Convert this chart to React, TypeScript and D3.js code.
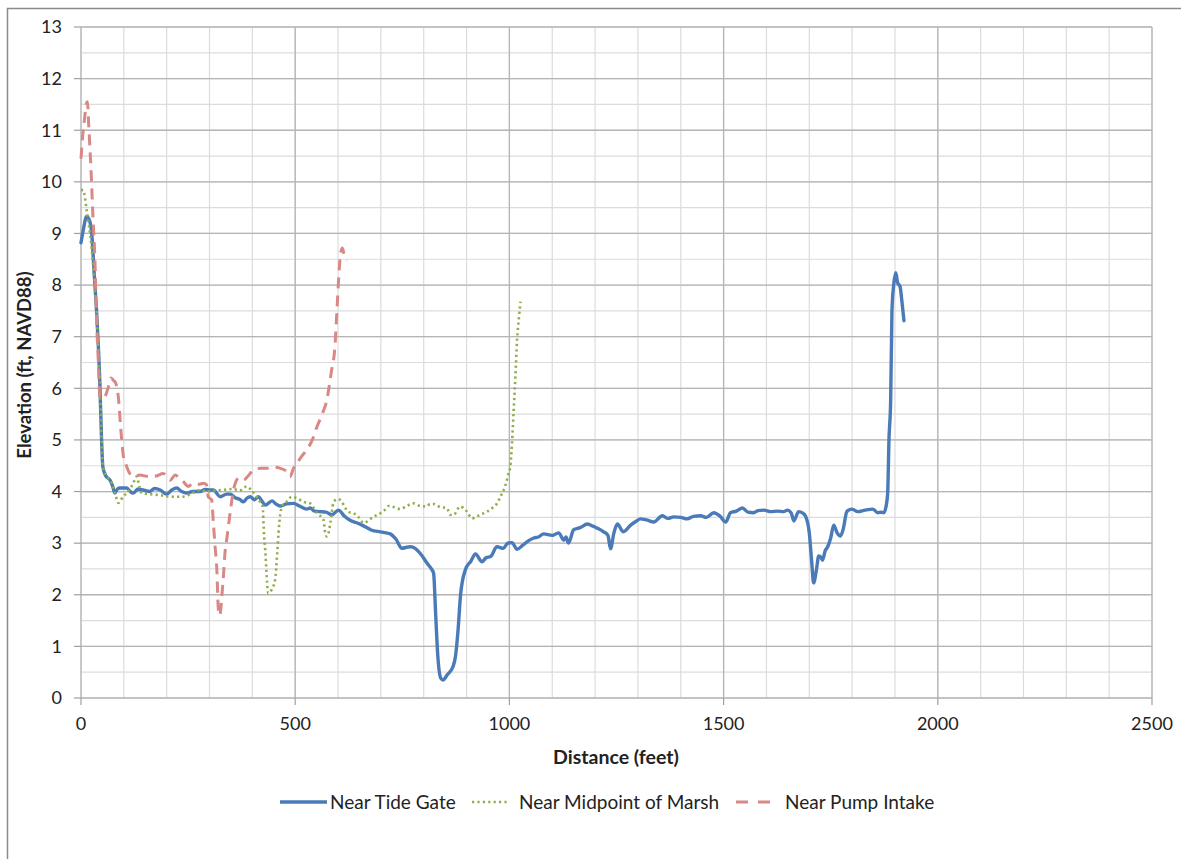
import React from "react";
import * as d3 from "d3";

const tideGate: [number, number][] = [
  [0, 8.82], [6, 9.1], [13, 9.33], [20, 9.25], [25, 9.0], [31, 8.2], [37, 7.39], [44, 6.1], [48, 5.0], [51, 4.48],
  [58, 4.3], [68, 4.22], [74, 4.1], [79, 3.97], [85, 4.05], [91, 4.07], [107, 4.07], [115, 4.0], [122, 3.97], [133, 4.05],
  [145, 4.03], [160, 4.0], [172, 4.06], [185, 4.03], [200, 3.95], [212, 4.03], [223, 4.07], [235, 4.0], [247, 3.97], [260, 4.0],
  [278, 4.0], [290, 4.04], [301, 4.03], [309, 4.03], [325, 3.9], [340, 3.95], [348, 3.95], [360, 3.88], [370, 3.85], [379, 3.8],
  [387, 3.87], [395, 3.9], [405, 3.84], [414, 3.9], [422, 3.82], [430, 3.74], [446, 3.82], [455, 3.76], [465, 3.72], [480, 3.76],
  [496, 3.77], [510, 3.72], [527, 3.66], [535, 3.68], [545, 3.62], [558, 3.61], [572, 3.6], [586, 3.55], [601, 3.64], [615, 3.52],
  [629, 3.44], [642, 3.4], [656, 3.35], [668, 3.3], [679, 3.25], [699, 3.22], [712, 3.2], [722, 3.18], [735, 3.08], [749, 2.9],
  [760, 2.92], [769, 2.93], [780, 2.9], [792, 2.8], [808, 2.61], [818, 2.5], [823, 2.42], [828, 1.6], [833, 0.8], [840, 0.38],
  [845, 0.35], [855, 0.45], [868, 0.6], [874, 0.8], [880, 1.3], [886, 2.0], [897, 2.48], [910, 2.65], [921, 2.79], [936, 2.64],
  [946, 2.72], [956, 2.74], [971, 2.93], [986, 2.9], [996, 3.0], [1006, 3.01], [1018, 2.88], [1030, 2.95], [1045, 3.05], [1057, 3.1],
  [1068, 3.12], [1080, 3.18], [1100, 3.15], [1115, 3.2], [1127, 3.06], [1132, 3.12], [1138, 3.0], [1150, 3.26], [1165, 3.3], [1182, 3.37],
  [1195, 3.33], [1205, 3.29], [1220, 3.22], [1230, 3.15], [1236, 2.89], [1244, 3.2], [1252, 3.37], [1266, 3.22], [1283, 3.35], [1295, 3.42],
  [1306, 3.47], [1320, 3.45], [1337, 3.41], [1357, 3.53], [1370, 3.48], [1384, 3.51], [1400, 3.5], [1415, 3.47], [1430, 3.52], [1446, 3.53],
  [1460, 3.5], [1477, 3.59], [1492, 3.52], [1505, 3.41], [1516, 3.59], [1530, 3.62], [1544, 3.68], [1557, 3.6], [1570, 3.59], [1580, 3.63],
  [1594, 3.64], [1610, 3.61], [1626, 3.62], [1640, 3.61], [1649, 3.64], [1658, 3.58], [1664, 3.43], [1675, 3.61], [1685, 3.58], [1692, 3.51],
  [1700, 3.2], [1706, 2.6], [1710, 2.23], [1717, 2.5], [1722, 2.75], [1727, 2.73], [1731, 2.67], [1737, 2.85], [1743, 2.93], [1750, 3.1],
  [1757, 3.35], [1765, 3.2], [1773, 3.14], [1780, 3.3], [1787, 3.6], [1792, 3.64], [1800, 3.66], [1813, 3.61], [1830, 3.64], [1848, 3.66],
  [1860, 3.59], [1867, 3.6], [1874, 3.59], [1880, 3.75], [1883, 3.97], [1886, 5.0], [1890, 5.78], [1893, 7.5], [1897, 8.0], [1902, 8.24],
  [1906, 8.05], [1912, 7.97], [1916, 7.7], [1921, 7.31],
];

const midpointMarsh: [number, number][] = [
  [0, 9.84], [5, 9.84], [13, 9.46], [25, 8.7], [31, 8.1], [37, 7.4], [44, 6.1], [51, 4.5], [60, 4.3], [72, 4.16],
  [80, 3.95], [87, 3.78], [98, 3.9], [110, 4.0], [118, 4.1], [124, 4.2], [130, 4.29], [136, 4.1], [142, 3.97], [160, 3.95],
  [185, 3.93], [210, 3.9], [239, 3.9], [260, 3.97], [278, 4.03], [295, 4.0], [313, 4.02], [330, 4.03], [355, 4.05], [370, 4.02],
  [387, 4.1], [398, 4.02], [410, 3.9], [418, 3.8], [424, 3.71], [427, 3.2], [430, 2.87], [437, 2.03], [445, 2.1], [453, 2.29],
  [458, 2.8], [461, 3.2], [469, 3.71], [480, 3.8], [492, 3.9], [504, 3.87], [520, 3.8], [535, 3.77], [551, 3.58], [566, 3.45],
  [570, 3.2], [574, 3.13], [578, 3.2], [582, 3.39], [589, 3.77], [597, 3.85], [605, 3.84], [617, 3.68], [626, 3.6], [636, 3.58],
  [648, 3.5], [660, 3.39], [672, 3.45], [683, 3.51], [699, 3.58], [710, 3.65], [718, 3.72], [730, 3.7], [745, 3.66], [760, 3.72],
  [776, 3.77], [792, 3.72], [807, 3.71], [815, 3.76], [823, 3.76], [838, 3.7], [854, 3.68], [862, 3.55], [870, 3.55], [885, 3.71],
  [900, 3.62], [913, 3.48], [925, 3.52], [932, 3.55], [948, 3.61], [960, 3.68], [971, 3.77], [982, 3.95], [991, 4.13], [998, 4.35],
  [1002, 4.48], [1006, 4.93], [1010, 5.58], [1014, 6.23], [1018, 6.94], [1022, 7.35], [1026, 7.68],
];

const pumpIntake: [number, number][] = [
  [0, 10.45], [4, 10.9], [8, 11.2], [12, 11.49], [15, 11.55], [18, 11.1], [23, 10.3], [28, 9.3], [33, 8.36], [36, 7.4],
  [40, 6.6], [44, 5.84], [50, 5.8], [56, 5.84], [63, 6.0], [70, 6.2], [75, 6.16], [81, 6.1], [87, 5.84], [93, 5.2],
  [99, 4.68], [106, 4.5], [114, 4.35], [125, 4.3], [138, 4.32], [150, 4.3], [161, 4.29], [175, 4.3], [192, 4.35], [208, 4.22],
  [220, 4.32], [230, 4.25], [239, 4.19], [250, 4.1], [262, 4.16], [275, 4.14], [286, 4.16], [293, 4.13], [297, 3.9], [305, 3.84],
  [309, 3.39], [313, 2.93], [317, 2.5], [320, 1.8], [322, 1.6], [325, 1.64], [329, 2.0], [333, 2.42], [336, 2.8], [340, 3.06],
  [348, 3.58], [356, 4.03], [362, 4.2], [368, 4.26], [379, 4.22], [390, 4.3], [403, 4.42], [420, 4.45], [434, 4.45], [450, 4.47],
  [465, 4.45], [478, 4.4], [488, 4.29], [496, 4.45], [504, 4.55], [515, 4.68], [527, 4.81], [540, 5.0], [551, 5.26], [563, 5.5],
  [574, 5.78], [584, 6.3], [593, 6.84], [598, 7.6], [602, 8.2], [606, 8.62], [610, 8.72], [614, 8.6], [618, 8.52], [621, 8.48],
];

const seriesNames = ["Near Tide Gate", "Near Midpoint of Marsh", "Near Pump Intake"];
const xTicks = [0, 500, 1000, 1500, 2000, 2500];
const yTicks = [0, 1, 2, 3, 4, 5, 6, 7, 8, 9, 10, 11, 12, 13];
const xMinor = d3.range(0, 2501, 100);
const yMinor = d3.range(0, 13.01, 0.5);

const W = 1181;
const H = 859;
const L = 81, R = 1152, T = 27, B = 698;
const FONT = "Lato, 'Open Sans', sans-serif";

export default function App() {
  const x = d3.scaleLinear().domain([0, 2500]).range([L, R]);
  const y = d3.scaleLinear().domain([0, 13]).range([B, T]);
  const line = d3
    .line<[number, number]>()
    .x((d) => x(d[0]))
    .y((d) => y(d[1]))
    .curve(d3.curveMonotoneX);

  const styles = [
    { color: "#4A7AB8", width: 3.4, dash: undefined as string | undefined, cap: "round" },
    { color: "#8FAE4E", width: 2.6, dash: "2.2,3.2", cap: "butt" },
    { color: "#D98886", width: 3, dash: "11,7", cap: "butt" },
  ];
  const legendDash = [undefined, "2.2,3.2", "12,10"];
  const data = [tideGate, midpointMarsh, pumpIntake];

  const legend = [
    { x1: 280, x2: 327, tx: 330 },
    { x1: 472, x2: 508, tx: 519 },
    { x1: 736, x2: 770, tx: 785 },
  ];

  return (
    <svg
      width={W}
      height={H}
      style={{ position: "absolute", left: 0, top: 0, background: "#fff" }}
      fontFamily={FONT}
    >
      <rect x={0} y={0} width={W} height={H} fill="#fff" />
      <rect x={7.5} y={8.5} width={W + 10} height={H + 10} fill="none" stroke="#8a8a8a" strokeWidth={1.5} />

      {/* minor grid */}
      {yMinor.map((v) => (
        <line key={"ym" + v} x1={L} x2={R} y1={y(v)} y2={y(v)} stroke="#dcdcdc" strokeWidth={1.2} />
      ))}
      {xMinor.map((v) => (
        <line key={"xm" + v} x1={x(v)} x2={x(v)} y1={T} y2={B} stroke="#dcdcdc" strokeWidth={1.2} />
      ))}
      {/* major grid */}
      {yTicks.map((v) => (
        <line key={"yM" + v} x1={L} x2={R} y1={y(v)} y2={y(v)} stroke="#b5b5b5" strokeWidth={1.3} />
      ))}
      {xTicks.map((v) => (
        <line key={"xM" + v} x1={x(v)} x2={x(v)} y1={T} y2={B} stroke="#b5b5b5" strokeWidth={1.3} />
      ))}

      {/* tick marks */}
      {yTicks.map((v) => (
        <line key={"yt" + v} x1={L - 7} x2={L} y1={y(v)} y2={y(v)} stroke="#a0a0a0" strokeWidth={1.2} />
      ))}
      {xTicks.map((v) => (
        <line key={"xt" + v} x1={x(v)} x2={x(v)} y1={B} y2={B + 7} stroke="#a0a0a0" strokeWidth={1.2} />
      ))}

      {/* tick labels */}
      {yTicks.map((v) => (
        <text key={"yl" + v} x={62} y={y(v)} dy="0.35em" textAnchor="end" fontSize={18} fill="#222">
          {v}
        </text>
      ))}
      {xTicks.map((v) => (
        <text key={"xl" + v} x={x(v)} y={724} dy="0.35em" textAnchor="middle" fontSize={18} fill="#222">
          {v}
        </text>
      ))}

      {/* axis titles */}
      <text x={616} y={757} dy="0.35em" textAnchor="middle" fontSize={19.5} fontWeight="bold" fill="#222">
        Distance (feet)
      </text>
      <text
        transform={`translate(25,${365}) rotate(-90)`}
        dy="0.35em"
        textAnchor="middle"
        fontSize={18.5}
        fontWeight="bold"
        fill="#222"
      >
        Elevation (ft, NAVD88)
      </text>

      {/* series */}
      {data.map((d, i) => (
        <path
          key={"s" + i}
          d={line(d) || ""}
          fill="none"
          stroke={styles[i].color}
          strokeWidth={styles[i].width}
          strokeDasharray={styles[i].dash}
          strokeLinecap={styles[i].cap as any}
          strokeLinejoin="round"
        />
      ))}

      {/* legend */}
      {seriesNames.map((n, i) => (
        <g key={"lg" + i}>
          <line
            x1={legend[i].x1}
            x2={legend[i].x2}
            y1={802}
            y2={802}
            stroke={styles[i].color}
            strokeWidth={styles[i].width}
            strokeDasharray={legendDash[i]}
          />
          <text x={legend[i].tx} y={802} dy="0.35em" fontSize={19} fill="#222">
            {n}
          </text>
        </g>
      ))}
    </svg>
  );
}
